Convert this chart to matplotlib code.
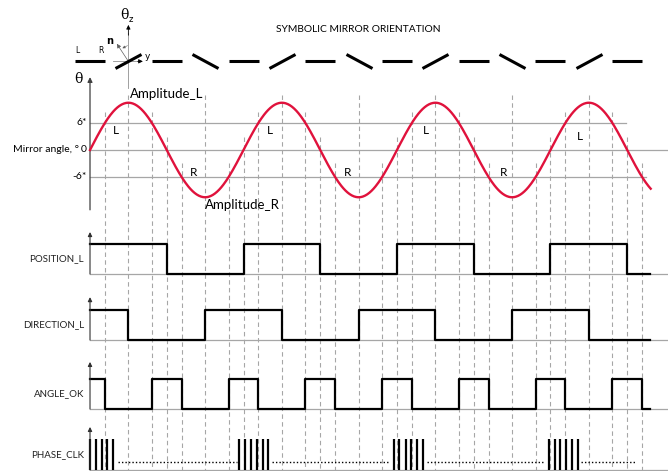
import matplotlib
matplotlib.use('Agg')
import matplotlib.pyplot as plt
import numpy as np
from matplotlib.markers import MarkerStyle
from matplotlib.transforms import Affine2D

plt.rcParams['font.family'] = ['Lato', 'DejaVu Sans']

# time axis in degrees of mirror phase
amplitude = 10.5          # mirror angle amplitude, deg
sine_end = 1315
signal_end = 1313

zero_cross = [180, 360, 540, 720, 900, 1080, 1260]
peaks = [90, 450, 810, 1170]
troughs = [270, 630, 990]
angle_cross_hi = [35, 145, 395, 505, 755, 865, 1115, 1225]   # theta = +6
angle_cross_lo = [215, 325, 575, 685, 935, 1045, 1295]       # theta = -6

# symbolic mirror orientation (time, tilt)
mirror_t = [0, 90, 180, 270, 360, 450, 540, 630, 720, 810, 900, 990, 1080, 1170, 1260]
mirror_tilt = [0, 30, 0, -30, 0, 30, 0, -30, 0, 30, 0, -30, 0, 30, 0]

# digital signals: start high, then edge times
position_l = [180, 360, 540, 720, 900, 1080, 1260]
direction_l = [90, 270, 450, 630, 810, 990, 1170]
angle_ok = [35, 145, 215, 325, 395, 505, 575, 685, 755, 865, 935, 1045, 1115, 1225, 1295]
clk_bursts = [[0, 14, 29, 41, 55],
              [349, 364, 378, 392, 405, 418],
              [713, 725, 740, 754, 768, 782],
              [1076, 1090, 1102, 1116, 1130, 1145]]
clk_dotted = [(66, 345), (427, 704), (790, 1067), (1151, 1280)]

W, H = 668, 471
XLIM = (-211.1, 1355.6)
GRAY = '#a6a6a6'
RED = '#e0123c'

fig = plt.figure(figsize=(W / 100, H / 100), dpi=100)
ax = fig.add_axes([0, 0, 1, 1])
ax.set_xlim(*XLIM)
ax.set_ylim(-71.33, 33.33)
ax.axis('off')

# guide lines for every event
bottom = -71.33
for t in peaks + troughs:
    ax.plot([t, t], [12.2, bottom], color=GRAY, lw=0.8, ls=(0, (4, 3)), zorder=1)
for t in zero_cross:
    ax.plot([t, t], [2.9, bottom], color=GRAY, lw=0.8, ls=(0, (4, 3)), zorder=1)
for t in angle_cross_hi:
    ax.plot([t, t], [8.5, bottom], color=GRAY, lw=0.8, ls=(0, (4, 3)), zorder=1)
for t in angle_cross_lo:
    ax.plot([t, t], [-2.8, bottom], color=GRAY, lw=0.8, ls=(0, (4, 3)), zorder=1)

# mirror angle panel
ax.plot([0, 1257], [6, 6], color=GRAY, lw=0.9, zorder=2)
ax.plot([0, 1355], [0, 0], color=GRAY, lw=0.9, zorder=2)
ax.plot([0, 1304], [-6, -6], color=GRAY, lw=0.9, zorder=2)
ax.annotate('', xy=(0, 16.2), xytext=(0, -13.3),
            arrowprops=dict(arrowstyle='-|>', lw=0.9, color='#404040', mutation_scale=7, shrinkA=0, shrinkB=0))
t = np.linspace(0, sine_end, 800)
ax.plot(t, amplitude * np.sin(np.radians(t)), color=RED, lw=1.7, zorder=4)

ax.text(-28, 15.8, 'θ', family='DejaVu Serif', fontsize=10, ha='center', va='center')
ax.text(-7, 6, '6*', fontsize=7.5, ha='right', va='center')
ax.text(-7, 0, '0', fontsize=7.5, ha='right', va='center')
ax.text(-7, -6, '-6*', fontsize=7.5, ha='right', va='center')
ax.text(-26, 0, 'Mirror angle, °', fontsize=7.5, ha='right', va='center')
ax.text(94, 11.5, 'Amplitude_L', fontsize=9.5, ha='left', va='baseline')
ax.text(270, -13.1, 'Amplitude_R', fontsize=9.5, ha='left', va='baseline')
for x, y in [(61, 4.4), (422, 4.4), (788, 4.4), (1149, 3.1)]:
    ax.text(x, y, 'L', fontsize=8.5, ha='center', va='center')
for x in [244, 605, 969]:
    ax.text(x, -4.9, 'R', fontsize=8.5, ha='center', va='center')

# symbolic mirror orientation
ax.text(629, 26.7, 'SYMBOLIC MIRROR ORIENTATION', fontsize=7.4, ha='center', va='center')
for mt, tilt in zip(mirror_t, mirror_tilt):
    ms = MarkerStyle('_', transform=Affine2D().rotate_deg(tilt))
    ax.plot([mt], [19.7], marker=ms, markersize=21.5, mew=2.2, color='black', zorder=5)
ax.text(-30, 21.1, 'L', fontsize=5.5, ha='center', va='bottom', family='DejaVu Sans')
ax.text(26, 21.1, 'R', fontsize=5.5, ha='center', va='bottom', family='DejaVu Sans')
# coordinate icon around the first tilted mirror
ax.plot([90, 90], [13.8, 26], color='#909090', lw=0.6, zorder=3)
ax.annotate('', xy=(90, 27.8), xytext=(90, 25.5),
            arrowprops=dict(arrowstyle='-|>', lw=0.6, color='black', mutation_scale=6, shrinkA=0, shrinkB=0))
ax.plot([54, 118], [19.7, 19.7], color='#909090', lw=0.6, zorder=3)
ax.annotate('', xy=(124, 19.7), xytext=(112, 19.7),
            arrowprops=dict(arrowstyle='-|>', lw=0.6, color='black', mutation_scale=6, shrinkA=0, shrinkB=0))
ax.annotate('', xy=(63, 23.6), xytext=(90, 19.7),
            arrowprops=dict(arrowstyle='-|>', lw=0.5, color='#606060', mutation_scale=6, shrinkA=0, shrinkB=0))
ax.annotate('', xy=(76, 22.6), xytext=(88, 23.2),
            arrowprops=dict(arrowstyle='-|>', lw=0.4, color='#606060', mutation_scale=4, shrinkA=0, shrinkB=0))
ax.text(129, 20.7, 'y', fontsize=6.5, ha='left', va='center', family='DejaVu Sans')
ax.text(45, 24.2, 'n', fontsize=7, fontweight='bold', ha='center', va='center', family='DejaVu Sans')
ax.text(80, 29.9, 'θ', fontsize=10, ha='center', va='center', family='DejaVu Serif')
ax.text(90, 29.0, 'z', fontsize=6, ha='left', va='center', family='DejaVu Sans')


def row_axes(base_px, high_px):
    unit = base_px - high_px
    b = 1 - (base_px + 0.5 * unit) / H
    a = fig.add_axes([0, b, 1, 2.3 * unit / H])
    a.set_xlim(*XLIM)
    a.set_ylim(-0.5, 1.8)
    a.axis('off')
    return a


def digital(a, edges, label, arrow_top):
    a.plot([0, 1353], [0, 0], color=GRAY, lw=0.9)
    a.annotate('', xy=(0, arrow_top), xytext=(0, 0),
               arrowprops=dict(arrowstyle='-|>', lw=0.8, color='#303030', mutation_scale=6, shrinkA=0, shrinkB=0))
    if edges is not None:
        xs = [0] + edges + [signal_end]
        ys = [1 - i % 2 for i in range(len(xs) - 1)]
        a.step(xs, ys + [ys[-1]], where='post', color='black', lw=1.6)
    a.text(-14, 0.5, label, fontsize=7, ha='right', va='center', color='#202020')


rows = [('POSITION_L', position_l, 274, 244, 1.4),
        ('DIRECTION_L', direction_l, 340, 310, 1.43),
        ('ANGLE_OK', angle_ok, 409, 379, 1.57),
        ('PHASE_CLK', None, 470, 439, 1.39)]

for label, edges, base_px, high_px, top in rows:
    a = row_axes(base_px, high_px)
    digital(a, edges, label, top)
    if edges is None:
        for burst in clk_bursts:
            a.vlines(burst, 0, 1, color='black', lw=1.6)
        for x0, x1 in clk_dotted:
            a.plot([x0, x1], [0.26, 0.26], color='black', lw=1.0, ls=(0, (1, 1.5)))

fig.savefig('out.png', dpi=100)
